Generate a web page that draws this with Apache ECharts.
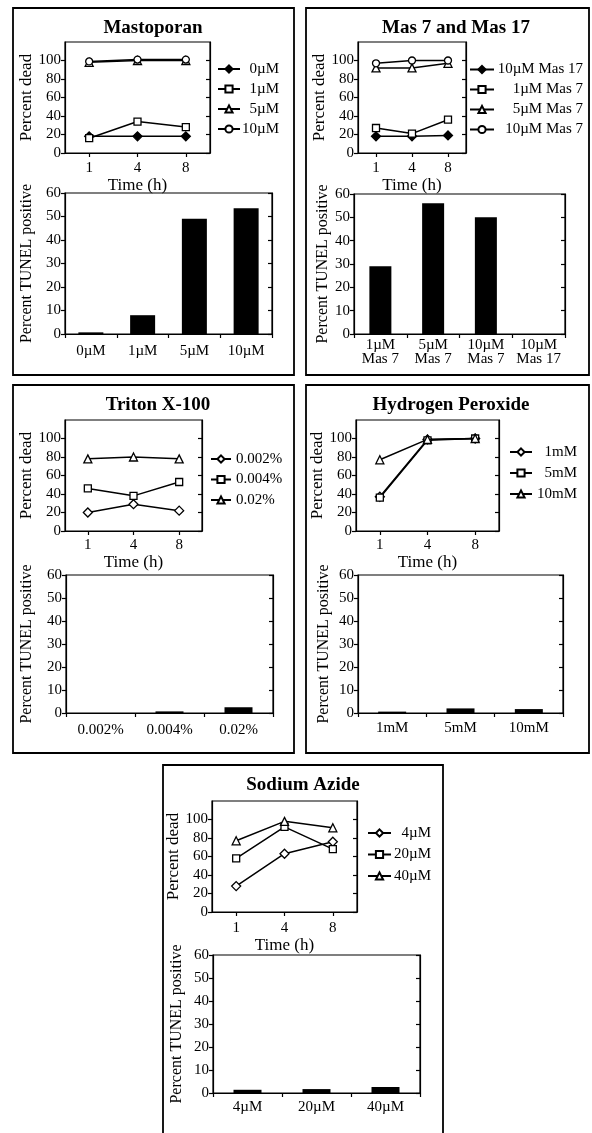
<!DOCTYPE html>
<html>
<head>
<meta charset="utf-8">
<script src="https://cdn.jsdelivr.net/npm/echarts@6/dist/echarts.min.js"></script>
<style>
html,body{margin:0;padding:0;background:#fff;}
#chart{width:592px;height:1133px;}
</style>
</head>
<body>
<div id="chart"></div>
<script>
// ---------- DATA ----------
const timeLabels = ['1', '4', '8'];
const percentDeadTicks = [0, 20, 40, 60, 80, 100];

// Mastoporan
const mastoNames = ['0µM', '1µM', '5µM', '10µM'];
const masto0 = [18, 18, 18];
const masto1 = [16, 34, 28];
const masto5 = [98, 100, 100];
const masto10 = [99, 101, 101];
const mastoBarCats = ['0µM', '1µM', '5µM', '10µM'];
const mastoBarVals = [0.7, 8, 49, 53.5];

// Mas 7 and Mas 17
const masNames = ['10µM Mas 17', '1µM Mas 7', '5µM Mas 7', '10µM Mas 7'];
const mas17_10 = [18, 18, 19];
const mas7_1 = [27, 21, 36];
const mas7_5 = [92, 92, 97];
const mas7_10 = [97, 100, 100];
const masBarCats = ['1µM\nMas 7', '5µM\nMas 7', '10µM\nMas 7', '10µM\nMas 17'];
const masBarVals = [29, 56, 50, 0];

// Triton X-100
const tritonNames = ['0.002%', '0.004%', '0.02%'];
const triton0002 = [20, 29, 22];
const triton0004 = [46, 38, 53];
const triton002 = [78, 80, 78];
const tritonBarCats = ['0.002%', '0.004%', '0.02%'];
const tritonBarVals = [0, 0.7, 2.5];

// Hydrogen Peroxide
const h2o2Names = ['1mM', '5mM', '10mM'];
const h2o2_1 = [37, 99, 100];
const h2o2_5 = [36, 98, 100];
const h2o2_10 = [77, 99, 100];
const h2o2BarCats = ['1mM', '5mM', '10mM'];
const h2o2BarVals = [0.6, 2, 1.7];

// Sodium Azide
const azideNames = ['4µM', '20µM', '40µM'];
const azide4 = [28, 63, 76];
const azide20 = [58, 92, 68];
const azide40 = [77, 98, 91];
const azideBarCats = ['4µM', '20µM', '40µM'];
const azideBarVals = [1.4, 1.7, 2.6];

// ---------- BUILD ----------
const FONT = '"Liberation Serif", "Times New Roman", serif';
const BLACK = '#000';
const grids = [], xAxes = [], yAxes = [], series = [], legends = [], graphics = [];

const SYM = {
  fdiamond: {type: 'diamond', fill: BLACK, size: 9},
  diamond: {type: 'diamond', fill: '#fff', size: 9},
  square: {type: 'rect', fill: '#fff', size: 7},
  triangle: {type: 'triangle', fill: '#fff', size: 8},
  circle: {type: 'circle', fill: '#fff', size: 7}
};

function axisLineStyle() { return {show: true, onZero: false, lineStyle: {color: BLACK, width: 1.2}}; }

function addLineChart(g, names, datas, syms, lg) {
  const gi = grids.length;
  grids.push({left: g.left, top: g.top, width: g.width, height: g.height, show: true,
    borderColor: BLACK, borderWidth: 1.2, backgroundColor: 'transparent'});
  const xi = xAxes.length;
  xAxes.push({gridIndex: gi, type: 'category', data: timeLabels, boundaryGap: true,
    axisLine: axisLineStyle(),
    axisTick: {show: true, alignWithLabel: true, length: 4, lineStyle: {color: BLACK, width: 1.2}},
    axisLabel: {color: BLACK, fontFamily: FONT, fontSize: 15, margin: g.xMargin},
    splitLine: {show: false},
    name: 'Time (h)', nameLocation: 'middle', nameGap: g.xNameGap,
    nameTextStyle: {color: BLACK, fontFamily: FONT, fontSize: 17}});
  const yi = yAxes.length;
  yAxes.push({gridIndex: gi, type: 'value', position: 'left', min: 0, max: 120, interval: 20,
    axisLine: axisLineStyle(),
    axisTick: {show: true, inside: false, length: 4, lineStyle: {color: BLACK, width: 1.2}, customValues: percentDeadTicks},
    axisLabel: {color: BLACK, fontFamily: FONT, fontSize: 15, margin: 4, customValues: percentDeadTicks,
      formatter: v => (v > 100 ? '' : String(v))},
    splitLine: {show: false},
    name: 'Percent dead', nameLocation: 'middle', nameGap: g.yNameGap,
    nameTextStyle: {color: BLACK, fontFamily: FONT, fontSize: 17}});
  yAxes.push({gridIndex: gi, type: 'value', position: 'right', min: 0, max: 120, interval: 20,
    axisLine: axisLineStyle(),
    axisTick: {show: true, inside: true, length: 4, lineStyle: {color: BLACK, width: 1.2}, customValues: percentDeadTicks},
    axisLabel: {show: false}, splitLine: {show: false}});
  names.forEach((n, i) => {
    const s = SYM[syms[i]];
    series.push({type: 'line', name: n, xAxisIndex: xi, yAxisIndex: yi, data: datas[i],
      symbol: s.type, symbolSize: s.size, showAllSymbol: true,
      itemStyle: {color: s.fill, borderColor: BLACK, borderWidth: 1.3},
      lineStyle: {color: BLACK, width: 1.5}, emphasis: {disabled: true}, z: 3 + i});
  });
  const leg = {left: lg.left, top: lg.top, orient: 'vertical', itemWidth: lg.itemWidth, itemHeight: 9,
    itemGap: lg.gap, data: names, selectedMode: false, padding: 0,
    textStyle: {color: BLACK, fontFamily: FONT, fontSize: 15, lineHeight: 15}};
  if (lg.textWidth) {
    leg.formatter = n => '{a|' + n + '}';
    leg.textStyle.rich = {a: {width: lg.textWidth, align: 'right', color: BLACK, fontFamily: FONT, fontSize: 15, lineHeight: 15}};
  }
  legends.push(leg);
}

function addBarChart(g, cats, vals, barWidth) {
  const gi = grids.length;
  grids.push({left: g.left, top: g.top, width: g.width, height: g.height, show: true,
    borderColor: BLACK, borderWidth: 1.2, backgroundColor: 'transparent'});
  const xi = xAxes.length;
  xAxes.push({gridIndex: gi, type: 'category', data: cats, boundaryGap: true,
    axisLine: axisLineStyle(),
    axisTick: {show: true, alignWithLabel: false, interval: 0, length: 4, lineStyle: {color: BLACK, width: 1.2}},
    axisLabel: {color: BLACK, fontFamily: FONT, fontSize: 15, margin: g.xMargin, interval: 0, lineHeight: 14},
    splitLine: {show: false}});
  const yi = yAxes.length;
  yAxes.push({gridIndex: gi, type: 'value', position: 'left', min: 0, max: 60, interval: 10,
    axisLine: axisLineStyle(),
    axisTick: {show: true, inside: false, length: 4, lineStyle: {color: BLACK, width: 1.2}},
    axisLabel: {color: BLACK, fontFamily: FONT, fontSize: 15, margin: 4},
    splitLine: {show: false},
    name: 'Percent TUNEL positive', nameLocation: 'middle', nameGap: g.yNameGap,
    nameTextStyle: {color: BLACK, fontFamily: FONT, fontSize: 16}});
  yAxes.push({gridIndex: gi, type: 'value', position: 'right', min: 0, max: 60, interval: 10,
    axisLine: axisLineStyle(),
    axisTick: {show: true, inside: true, length: 4, lineStyle: {color: BLACK, width: 1.2}},
    axisLabel: {show: false}, splitLine: {show: false}});
  series.push({type: 'bar', name: 'TUNEL ' + gi, xAxisIndex: xi, yAxisIndex: yi, data: vals,
    barWidth: barWidth, itemStyle: {color: BLACK}, emphasis: {disabled: true}});
}

function addPanel(title, box, titleX, titleY) {
  graphics.push({type: 'rect', shape: {x: box[0], y: box[1], width: box[2] - box[0], height: box[3] - box[1]},
    style: {fill: 'none', stroke: BLACK, lineWidth: 1.8}, silent: true, z: 0});
  graphics.push({type: 'text', x: titleX, y: titleY,
    style: {text: title, fill: BLACK, font: 'bold 19px ' + FONT, align: 'center', verticalAlign: 'middle'},
    silent: true});
}

// Panel 1 – Mastoporan
addPanel('Mastoporan', [13, 8, 294, 375], 153, 28);
addLineChart({left: 65, top: 42, width: 145, height: 111, xMargin: 8, xNameGap: 22, yNameGap: 29},
  mastoNames, [masto0, masto1, masto5, masto10], ['fdiamond', 'square', 'triangle', 'circle'],
  {left: 217, top: 61.5, itemWidth: 22, gap: 5, textWidth: 34});
addBarChart({left: 65, top: 193, width: 207, height: 141, xMargin: 10, yNameGap: 30}, mastoBarCats, mastoBarVals, 25);

// Panel 2 – Mas 7 and Mas 17
addPanel('Mas 7 and Mas 17', [306, 8, 589, 375], 456, 28);
addLineChart({left: 358, top: 42, width: 108, height: 111, xMargin: 8, xNameGap: 22, yNameGap: 27},
  masNames, [mas17_10, mas7_1, mas7_5, mas7_10], ['fdiamond', 'square', 'triangle', 'circle'],
  {left: 469, top: 62, itemWidth: 24, gap: 5, textWidth: 84});
addBarChart({left: 354, top: 194, width: 211, height: 140, xMargin: 4, yNameGap: 23}, masBarCats, masBarVals, 22);

// Panel 3 – Triton X-100
addPanel('Triton X-100', [13, 385, 294, 753], 158, 405);
addLineChart({left: 65, top: 420, width: 137, height: 111, xMargin: 7, xNameGap: 21, yNameGap: 29},
  tritonNames, [triton0002, triton0004, triton002], ['diamond', 'square', 'triangle'],
  {left: 210, top: 451.5, itemWidth: 20, gap: 5.5});
addBarChart({left: 66, top: 575, width: 207, height: 138, xMargin: 10, yNameGap: 31}, tritonBarCats, tritonBarVals, 28);

// Panel 4 – Hydrogen Peroxide
addPanel('Hydrogen Peroxide', [306, 385, 589, 753], 451, 405);
addLineChart({left: 356, top: 420, width: 143, height: 111, xMargin: 7, xNameGap: 23, yNameGap: 27},
  h2o2Names, [h2o2_1, h2o2_5, h2o2_10], ['diamond', 'square', 'triangle'],
  {left: 509, top: 444.5, itemWidth: 22, gap: 6, textWidth: 40});
addBarChart({left: 358, top: 575, width: 205, height: 138, xMargin: 8, yNameGap: 26}, h2o2BarCats, h2o2BarVals, 28);

// Panel 5 – Sodium Azide
addPanel('Sodium Azide', [163, 765, 443, 1140], 303, 785);
addLineChart({left: 212, top: 801, width: 145, height: 111, xMargin: 9, xNameGap: 22, yNameGap: 26},
  azideNames, [azide4, azide20, azide40], ['diamond', 'square', 'triangle'],
  {left: 367, top: 825.5, itemWidth: 23, gap: 6.5, textWidth: 35});
addBarChart({left: 213, top: 955, width: 207, height: 138, xMargin: 7, yNameGap: 28}, azideBarCats, azideBarVals, 28);

const chart = echarts.init(document.getElementById('chart'), null, {renderer: 'canvas'});
chart.setOption({
  animation: false,
  backgroundColor: '#fff',
  textStyle: {fontFamily: FONT, color: BLACK},
  grid: grids,
  xAxis: xAxes,
  yAxis: yAxes,
  legend: legends,
  series: series,
  graphic: graphics,
  tooltip: {show: false}
});
</script>
</body>
</html>
